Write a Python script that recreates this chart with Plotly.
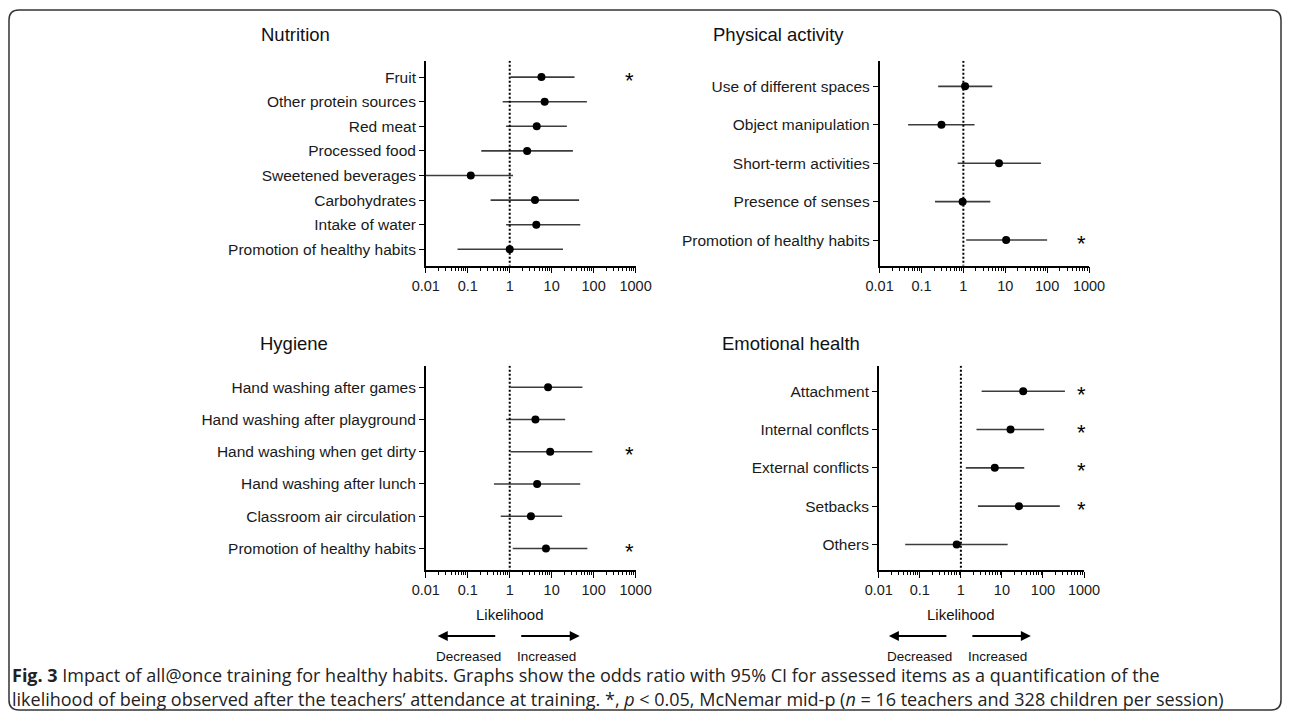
import plotly.graph_objects as go

# ---------------- data ----------------
tick_vals = [0.01, 0.1, 1, 10, 100, 1000]
tick_text = ["0.01", "0.1", "1", "10", "100", "1000"]

nutrition_items = ["Fruit", "Other protein sources", "Red meat", "Processed food",
                   "Sweetened beverages", "Carbohydrates", "Intake of water",
                   "Promotion of healthy habits"]
nutrition_or = [5.7, 6.8, 4.4, 2.6, 0.118, 4.0, 4.3, 1.0]
nutrition_lo = [1.05, 0.68, 0.82, 0.21, 0.008, 0.35, 0.82, 0.057]
nutrition_hi = [35, 69, 23, 32, 1.2, 45, 48, 18.6]
nutrition_sig = [True, False, False, False, False, False, False, False]

pa_items = ["Use of different spaces", "Object manipulation", "Short-term activities",
            "Presence of senses", "Promotion of healthy habits"]
pa_or = [1.1, 0.30, 7.1, 0.96, 10.5]
pa_lo = [0.25, 0.048, 0.73, 0.21, 1.17]
pa_hi = [4.9, 1.85, 71, 4.4, 100]
pa_sig = [False, False, False, False, True]

hyg_items = ["Hand washing after games", "Hand washing after playground",
             "Hand washing when get dirty", "Hand washing after lunch",
             "Classroom air circulation", "Promotion of healthy habits"]
hyg_or = [8.2, 4.1, 9.2, 4.5, 3.2, 7.3]
hyg_lo = [1.05, 0.82, 1.05, 0.42, 0.61, 1.18]
hyg_hi = [54, 21, 93, 48, 17.8, 71]
hyg_sig = [False, False, True, False, False, True]

emo_items = ["Attachment", "Internal conflcts", "External conflicts", "Setbacks", "Others"]
emo_or = [33, 16.2, 6.7, 26, 0.79]
emo_lo = [3.2, 2.4, 1.32, 2.6, 0.044]
emo_hi = [343, 107, 35, 258, 13.8]
emo_sig = [True, True, True, True, False]

caption_1 = ("<b>Fig. 3</b> Impact of all@once training for healthy habits. Graphs show the odds ratio "
             "with 95% CI for assessed items as a quantification of the")
caption_2 = ("likelihood of being observed after the teachers\u2019 attendance at training. *, "
             "<i>p</i> &lt; 0.05, McNemar mid-p (<i>n</i> = 16 teachers and 328 children per session)")

# ---------------- layout helpers ----------------
# page body has an 8px margin; size the figure so the page fits the 1290x719 window
OFF = 8
W, H = 1290 - 2 * OFF, 719 - 2 * OFF


def px(x):
    return (x - OFF) / W


def py(y):
    return 1 - (y - OFF) / H


FONT = "Liberation Sans, Arial, sans-serif"
CAP_FONT = "Open Sans, Noto Sans, sans-serif"

panels = [
    dict(title="Nutrition", items=nutrition_items, orv=nutrition_or, lo=nutrition_lo,
         hi=nutrition_hi, sig=nutrition_sig, xdom=(425.8, 635.6), ydom=(60.7, 265.7),
         title_xy=(259, 35), star_x=629, likelihood=False),
    dict(title="Physical activity", items=pa_items, orv=pa_or, lo=pa_lo, hi=pa_hi,
         sig=pa_sig, xdom=(879.6, 1089.0), ydom=(60.7, 265.7),
         title_xy=(711, 34), star_x=1081, likelihood=False),
    dict(title="Hygiene", items=hyg_items, orv=hyg_or, lo=hyg_lo, hi=hyg_hi,
         sig=hyg_sig, xdom=(425.8, 635.6), ydom=(365.7, 570.0),
         title_xy=(258, 343), star_x=629, likelihood=True),
    dict(title="Emotional health", items=emo_items, orv=emo_or, lo=emo_lo, hi=emo_hi,
         sig=emo_sig, xdom=(878.8, 1084.0), ydom=(365.7, 570.0),
         title_xy=(720, 343), star_x=1081, likelihood=True),
]

minor_vals = [m * 10 ** d for d in range(-2, 3) for m in range(2, 10)]

fig = go.Figure()
annotations = []
PAD = 0.667

for i, p in enumerate(panels, start=1):
    xa = "x" if i == 1 else f"x{i}"
    ya = "y" if i == 1 else f"y{i}"
    n = len(p["items"])
    ypos = list(range(n))

    xs, ys = [], []
    for k in range(n):
        xs += [p["lo"][k], p["hi"][k], None]
        ys += [k, k, None]
    fig.add_trace(go.Scatter(x=xs, y=ys, mode="lines",
                             line=dict(color="#3c3c3c", width=1.6),
                             xaxis=xa, yaxis=ya, showlegend=False, hoverinfo="skip"))
    fig.add_trace(go.Scatter(x=[1, 1], y=[-PAD, n - 1 + PAD], mode="lines",
                             line=dict(color="black", width=2, dash="2px,2px"),
                             xaxis=xa, yaxis=ya, showlegend=False, hoverinfo="skip"))
    fig.add_trace(go.Scatter(x=p["orv"], y=ypos, mode="markers",
                             marker=dict(color="black", size=8),
                             xaxis=xa, yaxis=ya, showlegend=False))

    x0, x1 = p["xdom"]
    y0, y1 = p["ydom"]
    fig.layout[("xaxis" if i == 1 else f"xaxis{i}")] = dict(
        type="log", range=[-2, 3], domain=[px(x0), px(x1)], anchor=ya,
        showline=True, linecolor="black", linewidth=1.5,
        ticks="outside", ticklen=6, tickwidth=1.2, tickcolor="black",
        tickmode="array", tickvals=tick_vals, ticktext=tick_text,
        tickfont=dict(family=FONT, size=14.5, color="#1a1a1a"),
        ticklabelstandoff=0, automargin=False,
        minor=dict(tickmode="array", tickvals=minor_vals, ticks="outside",
                   ticklen=3.5, tickwidth=1, tickcolor="black", showgrid=False),
        showgrid=False, zeroline=False, fixedrange=True)
    fig.layout[("yaxis" if i == 1 else f"yaxis{i}")] = dict(
        range=[n - 1 + PAD, -PAD], domain=[py(y1), py(y0)], anchor=xa,
        showline=True, linecolor="black", linewidth=1.5,
        ticks="outside", ticklen=5, tickwidth=1.2, tickcolor="black",
        tickmode="array", tickvals=ypos, ticktext=p["items"],
        tickfont=dict(family=FONT, size=15.5, color="#1a1a1a"),
        automargin=False,
        showgrid=False, zeroline=False, fixedrange=True)

    tx, ty = p["title_xy"]
    annotations.append(dict(text=p["title"], x=px(tx), y=py(ty), xref="paper", yref="paper",
                            xanchor="left", yanchor="middle", showarrow=False,
                            font=dict(family=FONT, size=18.5, color="#111")))
    for k, s in enumerate(p["sig"]):
        if s:
            annotations.append(dict(text="*", x=px(p["star_x"]), y=k, xref="paper", yref=ya,
                                    xanchor="center", yanchor="middle", yshift=-3,
                                    showarrow=False,
                                    font=dict(family=FONT, size=22, color="black")))
    if p["likelihood"]:
        cx = x0 + (x1 - x0) * 2 / 5
        annotations.append(dict(text="Likelihood", x=px(cx), y=py(614), xref="paper",
                                yref="paper", showarrow=False, xanchor="center",
                                yanchor="middle",
                                font=dict(family=FONT, size=15, color="#111")))
        annotations.append(dict(text="", x=px(cx - 72), y=py(636), xref="paper", yref="paper",
                                ax=59, ay=0, showarrow=True, arrowhead=2, arrowsize=1,
                                arrowwidth=2, arrowcolor="black"))
        annotations.append(dict(text="", x=px(cx + 70), y=py(636), xref="paper", yref="paper",
                                ax=-60, ay=0, showarrow=True, arrowhead=2, arrowsize=1,
                                arrowwidth=2, arrowcolor="black"))
        annotations.append(dict(text="Decreased", x=px(cx - 41.5), y=py(656), xref="paper",
                                yref="paper", showarrow=False, xanchor="center",
                                yanchor="middle",
                                font=dict(family=FONT, size=13.5, color="#111")))
        annotations.append(dict(text="Increased", x=px(cx + 37), y=py(656), xref="paper",
                                yref="paper", showarrow=False, xanchor="center",
                                yanchor="middle",
                                font=dict(family=FONT, size=13.5, color="#111")))

annotations.append(dict(text=caption_1, x=px(10), y=py(675), xref="paper", yref="paper",
                        xanchor="left", yanchor="middle", showarrow=False,
                        font=dict(family=CAP_FONT, size=18, color="#222")))
annotations.append(dict(text=caption_2, x=px(10), y=py(699), xref="paper", yref="paper",
                        xanchor="left", yanchor="middle", showarrow=False,
                        font=dict(family=CAP_FONT, size=18, color="#222")))

# rounded border (clamped to the visible page area)
bx0, by0, r = 9, 10, 10
bx1 = min(1287, OFF + W - 1)
by1 = min(717, OFF + H - 1)
pts = [("M", bx0 + r, by0), ("L", bx1 - r, by0), ("Q", bx1, by0, bx1, by0 + r),
       ("L", bx1, by1 - r), ("Q", bx1, by1, bx1 - r, by1), ("L", bx0 + r, by1),
       ("Q", bx0, by1, bx0, by1 - r), ("L", bx0, by0 + r), ("Q", bx0, by0, bx0 + r, by0)]
path = ""
for seg in pts:
    cmd = seg[0]
    coords = seg[1:]
    parts = []
    for j in range(0, len(coords), 2):
        parts.append(f"{px(coords[j]):.5f},{py(coords[j + 1]):.5f}")
    path += cmd + " " + " ".join(parts) + " "
path += "Z"

fig.update_layout(
    width=W, height=H, margin=dict(l=0, r=0, t=0, b=0),
    paper_bgcolor="white", plot_bgcolor="rgba(0,0,0,0)",
    annotations=annotations,
    shapes=[dict(type="path", path=path, xref="paper", yref="paper",
                 line=dict(color="#333", width=1.5), layer="below")],
    showlegend=False,
)

fig.write_html("out.html")
